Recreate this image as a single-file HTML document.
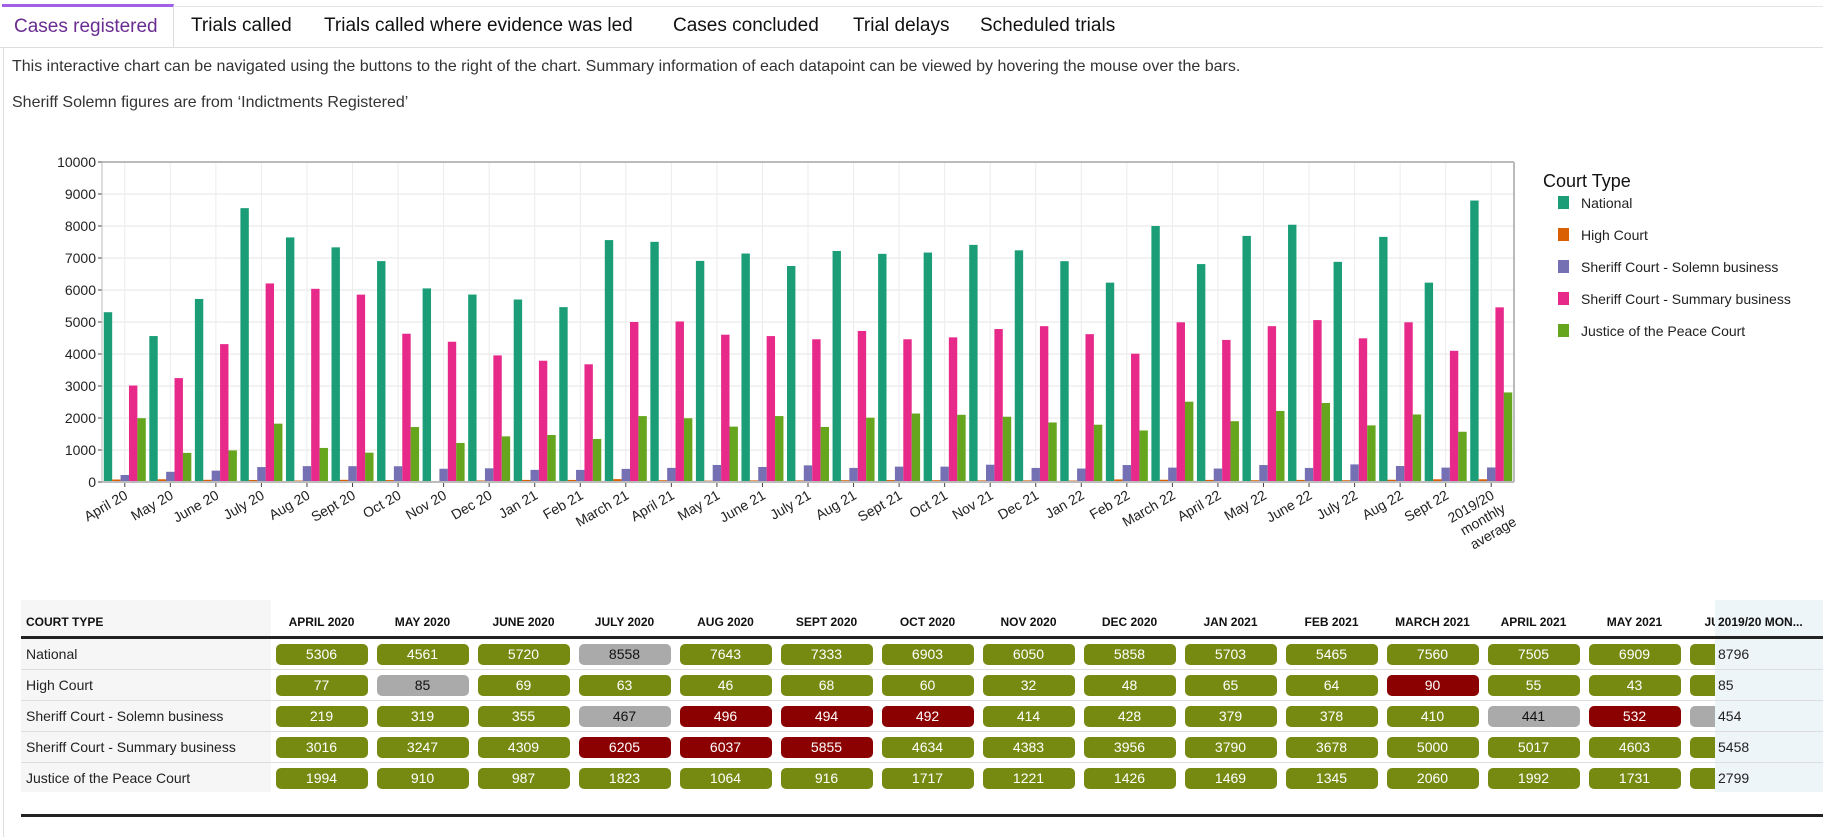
<!DOCTYPE html>
<html><head><meta charset="utf-8">
<style>
body{margin:0;width:1823px;height:824px;overflow:hidden;background:#fff;font-family:"Liberation Sans",sans-serif;color:#222;position:relative}
.frame{position:absolute;left:3px;top:6px;width:1830px;height:830px;border-left:1px solid #ddd;border-top:1px solid #e5e5e5}
.tabbar{position:absolute;left:0;top:6px;width:1823px;height:41px;border-bottom:1px solid #ddd}
.tab{position:absolute;top:6px;height:41px;line-height:40px;font-size:19px;color:#111;white-space:nowrap}
.tab.active{left:2px;width:172px;border-top:3px solid #a260e6;border-right:1px solid #ddd;background:#fff;color:#6a2c91;top:4px;height:43px;padding-left:12px;box-sizing:border-box}
.p{position:absolute;left:12px;font-size:16px;color:#333;white-space:nowrap}
#tbl{position:absolute;left:21px;top:600px;width:1802px;height:220px;font-size:14px}
.hdr{position:absolute;top:0;height:36px;line-height:44px;font-size:12px;font-weight:bold;text-align:center;color:#111}
.pill{position:absolute;width:92px;height:21px;line-height:21px;border-radius:5px;text-align:center;color:#fff;font-size:14px}
.g{background:#768a12}.r{background:#8b0000}.y{background:#aaa;color:#111}
</style></head><body>
<div class="frame"></div>
<div class="tabbar"></div>
<div class="tab active">Cases registered</div>
<div class="tab" style="left:191px">Trials called</div>
<div class="tab" style="left:324px">Trials called where evidence was led</div>
<div class="tab" style="left:673px">Cases concluded</div>
<div class="tab" style="left:853px">Trial delays</div>
<div class="tab" style="left:980px">Scheduled trials</div>
<div class="p" style="top:58px">This interactive chart can be navigated using the buttons to the right of the chart. Summary information of each datapoint can be viewed by hovering the mouse over the bars.</div>
<div class="p" style="top:94px">Sheriff Solemn figures are from ‘Indictments Registered’</div>

<svg id="chart" width="1823" height="590" style="position:absolute;left:0;top:0"></svg>
<div id="tbl"></div>

<script>
const categories=["April 20","May 20","June 20","July 20","Aug 20","Sept 20","Oct 20","Nov 20","Dec 20","Jan 21","Feb 21","March 21","April 21","May 21","June 21","July 21","Aug 21","Sept 21","Oct 21","Nov 21","Dec 21","Jan 22","Feb 22","March 22","April 22","May 22","June 22","July 22","Aug 22","Sept 22","2019/20|monthly|average"];
const national=[5306,4561,5720,8558,7643,7333,6903,6050,5858,5703,5465,7560,7505,6909,7140,6750,7220,7130,7170,7410,7240,6900,6230,8000,6810,7690,8040,6880,7660,6230,8796];
const highCourt=[77,85,69,63,46,68,60,32,48,65,64,90,55,43,50,50,55,60,55,50,50,45,80,70,65,55,65,55,70,85,85];
const solemn=[219,319,355,467,496,494,492,414,428,379,378,410,441,532,470,520,440,480,480,540,440,420,530,450,420,530,440,550,500,450,454];
const summary=[3016,3247,4309,6205,6037,5855,4634,4383,3956,3790,3678,5000,5017,4603,4560,4460,4720,4460,4520,4780,4870,4620,4010,4990,4440,4870,5060,4490,4990,4100,5458];
const jp=[1994,910,987,1823,1064,916,1717,1221,1426,1469,1345,2060,1992,1731,2060,1720,2010,2140,2100,2040,1860,1790,1610,2510,1900,2220,2470,1770,2110,1570,2799];
const seriesNames=["National","High Court","Sheriff Court - Solemn business","Sheriff Court - Summary business","Justice of the Peace Court"];
const yTicks=[0,1000,2000,3000,4000,5000,6000,7000,8000,9000,10000];
const tableCols=["APRIL 2020","MAY 2020","JUNE 2020","JULY 2020","AUG 2020","SEPT 2020","OCT 2020","NOV 2020","DEC 2020","JAN 2021","FEB 2021","MARCH 2021","APRIL 2021","MAY 2021","JUNE 2021"];
const pillStatus=[
"gggyggggggggggg",
"gygggggggggrggg",
"gggyrrrgggggyry",
"gggrrrggggggggg",
"ggggggggggggggg"];

const NS="http://www.w3.org/2000/svg";
const svg=document.getElementById('chart');
const colors=["#1b9e77","#d95f02","#7570b3","#e7298a","#66a61e"];
const L=102,R=1514,T=162,B=482;
const band=(R-L)/categories.length;
const xc=i=>L+band*(i+0.5);
const y=v=>B-(v/10000)*(B-T);
function mk(tag,attrs,parent){const e=document.createElementNS(NS,tag);for(const k in attrs)e.setAttribute(k,attrs[k]);(parent||svg).appendChild(e);return e;}
mk('rect',{x:L,y:T,width:R-L,height:B-T,fill:'#fff'});
yTicks.forEach(t=>{
  const gl=mk('line',{x1:L,x2:R,y1:y(t),y2:y(t),stroke:'#e6e6e6','stroke-width':1});
  
  
  mk('line',{x1:L-4,x2:L,y1:y(t),y2:y(t),stroke:'#444'});
  const tx=mk('text',{x:L-6,y:y(t)+5,'text-anchor':'end','font-size':14,fill:'#222'});
  tx.textContent=t;
  
  
});
categories.forEach((c,i)=>{
  mk('line',{x1:xc(i),x2:xc(i),y1:T,y2:B,stroke:'#ececec'});
  mk('line',{x1:xc(i),x2:xc(i),y1:B,y2:B+5,stroke:'#444'});
});
const series=[national,highCourt,solemn,summary,jp];
const bw=8.4;
series.forEach((s,si)=>{
  s.forEach((v,i)=>{
    const r=mk('rect',{x:xc(i)-21+si*bw,y:y(v),width:bw,height:B-y(v),fill:colors[si]});
    
    
  });
});
mk('line',{x1:L,x2:L,y1:T,y2:B,stroke:'#bbb','stroke-width':1});
mk('line',{x1:L,x2:R,y1:T,y2:T,stroke:'#bbb','stroke-width':2});
mk('line',{x1:R,x2:R,y1:T,y2:B,stroke:'#bbb','stroke-width':2});
mk('line',{x1:L,x2:R,y1:B,y2:B,stroke:'#bbb','stroke-width':2});
categories.forEach((c,i)=>{
  const g=mk('g',{transform:`translate(${xc(i)+4},${B+16}) rotate(-30)`});
  const t=mk('text',{'text-anchor':'end','font-size':14,fill:'#222'},g);
  c.split('|').forEach((ln,k)=>{const ts=mk('tspan',{x:k*3,dy:k?17:0},t);ts.textContent=ln;});
  
  
});
const lt=mk('text',{x:1543,y:187,'font-size':18,fill:'#111'});lt.textContent='Court Type';


seriesNames.forEach((n,i)=>{
  const yy=203+i*32;
  mk('rect',{x:1558,y:yy-7,width:11,height:13,fill:colors[i]});
  const t=mk('text',{x:1581,y:yy+5,'font-size':14,fill:'#222'});t.textContent=n;
  
  
});

const tbl=document.getElementById('tbl');
function div(cls,style,text,name,inter){const d=document.createElement('div');if(cls)d.className=cls;d.style.cssText='position:absolute;'+style;if(text!==undefined)d.textContent=text;tbl.appendChild(d);return d;}
div('', 'left:0;top:0;width:250px;height:192px;background:#f6f6f6','', 'court-type-column-bg');
div('hdr','left:5px;width:240px;text-align:left','COURT TYPE','court-type-header');
const rows=[national,highCourt,solemn,summary,jp];
tableCols.forEach((c,j)=>{div('hdr',`left:${250+j*101}px;width:101px`,c,'column-header');});
div('', 'left:0;top:36px;width:1802px;height:3px;background:#222','','header-rule');
rows.forEach((r,i)=>{
  const top=39+i*31;
  div('', `left:5px;top:${top}px;height:31px;line-height:31px;white-space:nowrap`,seriesNames[i],'row-label');
  if(i<4)div('',`left:0;top:${top+30}px;width:1802px;height:1px;background:#ddd`,'','row-separator');
  tableCols.forEach((c,j)=>{
    const st=pillStatus[i][j];
    div('pill '+st,`left:${250+j*101+4.5}px;top:${top+5}px`,r[j],'value-pill',true);
  });
});
div('', 'left:1694px;top:0;width:108px;height:192px;background:#eef5f9','','average-column-bg');
div('hdr','left:1697px;width:105px;text-align:left','2019/20 MON...','average-column-header');
div('', 'left:1694px;top:36px;width:108px;height:3px;background:#222','','header-rule-avg');
rows.forEach((r,i)=>{
  const top=39+i*31;
  div('',`left:1697px;top:${top}px;height:31px;line-height:31px`,r[r.length-1],'average-value');
  if(i<4)div('',`left:1694px;top:${top+30}px;width:108px;height:1px;background:#ddd`,'','row-separator');
});
div('', 'left:0;top:214px;width:1802px;height:3px;background:#222','','table-bottom-rule');
</script>
</body></html>
